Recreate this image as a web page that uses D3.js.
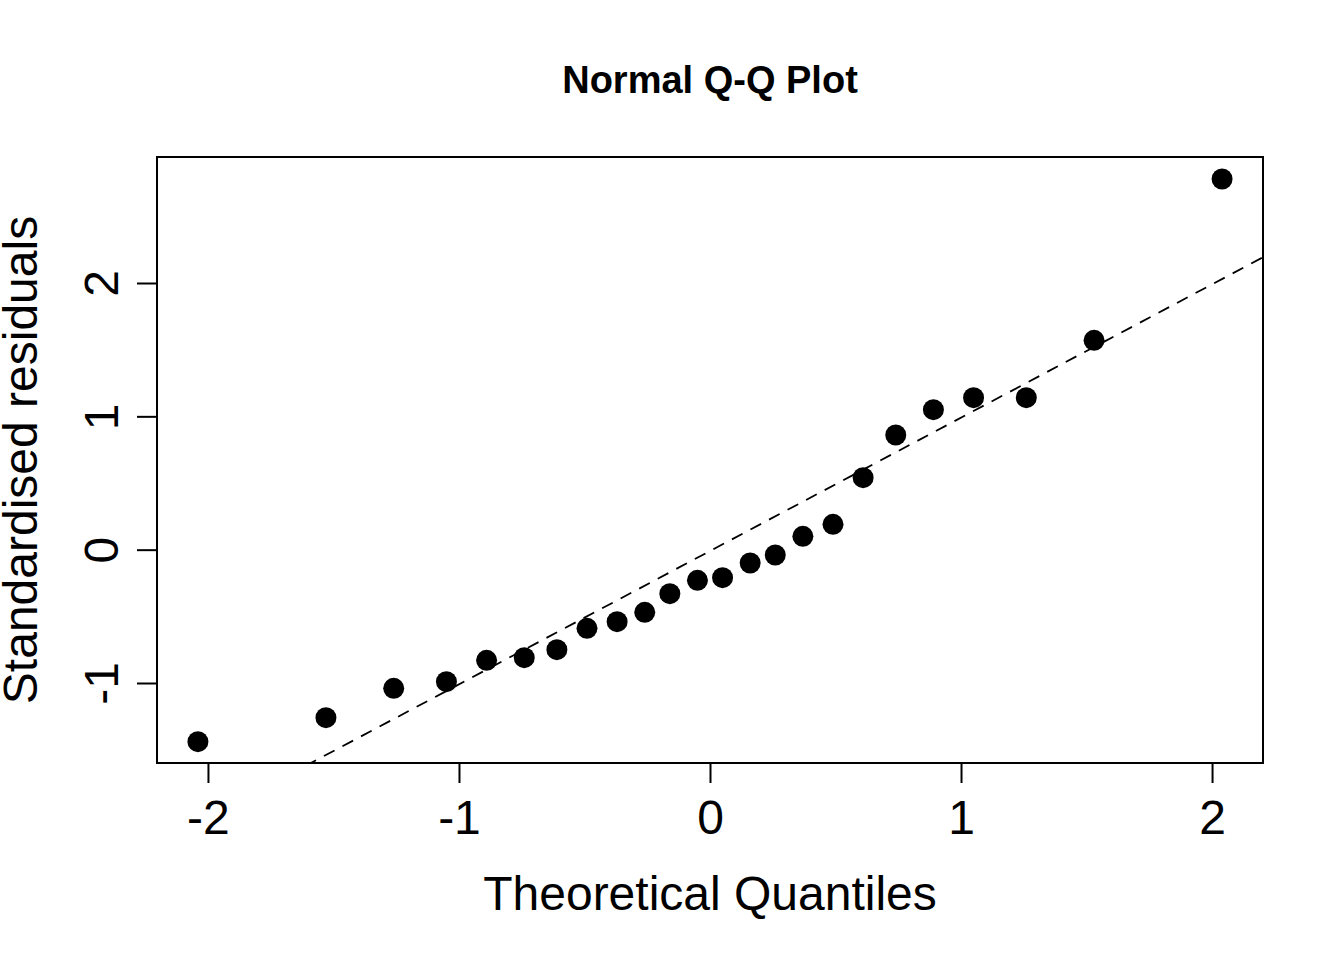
<!DOCTYPE html>
<html>
<head>
<meta charset="utf-8">
<script src="https://cdn.jsdelivr.net/npm/d3@7"></script>
<style>
  body { margin: 0; background: #fff; }
  text { font-family: "Liberation Sans", Arial, sans-serif; fill: #000; }
</style>
</head>
<body>
<div id="chart"></div>
<script>
// データ-------------------------------------------------------------------------------------
const theoretical = [-2.04, -1.53, -1.26, -1.05, -0.89, -0.74, -0.61, -0.49, -0.37, -0.26, -0.16, -0.05,
  0.05, 0.16, 0.26, 0.37, 0.49, 0.61, 0.74, 0.89, 1.05, 1.26, 1.53, 2.04];
const residuals = [-1.44, -1.26, -1.04, -0.99, -0.83, -0.81, -0.75, -0.59, -0.54, -0.47, -0.33, -0.23,
  -0.21, -0.10, -0.04, 0.10, 0.19, 0.54, 0.86, 1.05, 1.14, 1.14, 1.57, 2.78];
const xTicks = [-2, -1, 0, 1, 2];
const yTicks = [-1, 0, 1, 2];
const refLine = [-0.01, 1.0]; // intercept, slope
const title = 'Normal Q-Q Plot';
const xLabel = 'Theoretical Quantiles';
const yLabel = 'Standardised residuals';
// SVG領域-------------------------------------------------------------------------------------
const width = 1344;
const height = 960;
const margin = {top: 157, right: 81, bottom: 197, left: 157};
const svg = d3.select('#chart').append('svg')
.attr('width', width)
.attr('height', height);
// スケール-------------------------------------------------------------------------------------
const x = d3.scaleLinear()
.domain([-2.203, 2.203])
.range([margin.left, width - margin.right]);
const y = d3.scaleLinear()
.domain([-1.60, 2.945])
.range([height - margin.bottom, margin.top]);
// クリップ-------------------------------------------------------------------------------------
svg.append('clipPath')
.attr('id', 'plot-clip')
.append('rect')
.attr('x', margin.left)
.attr('y', margin.top)
.attr('width', width - margin.left - margin.right)
.attr('height', height - margin.top - margin.bottom);
// 参照線-------------------------------------------------------------------------------------
const [x0, x1] = x.domain();
svg.append('line')
.attr('clip-path', 'url(#plot-clip)')
.attr('x1', x(x0))
.attr('y1', y(refLine[0] + refLine[1] * x0))
.attr('x2', x(x1))
.attr('y2', y(refLine[0] + refLine[1] * x1))
.attr('stroke', '#000')
.attr('stroke-width', 1.8)
.attr('stroke-dasharray', '12,9');
// 点-------------------------------------------------------------------------------------
svg.append('g')
.selectAll('circle')
.data(theoretical)
.enter()
.append('circle')
.attr('cx', d => x(d))
.attr('cy', (d, i) => y(residuals[i]))
.attr('r', 10.5)
.attr('fill', '#000');
// 枠-------------------------------------------------------------------------------------
svg.append('rect')
.attr('x', margin.left)
.attr('y', margin.top)
.attr('width', width - margin.left - margin.right)
.attr('height', height - margin.top - margin.bottom)
.attr('fill', 'none')
.attr('stroke', '#000')
.attr('stroke-width', 2);
// X軸-------------------------------------------------------------------------------------
const xAxis = svg.append('g')
.attr('transform', 'translate(0,' + (height - margin.bottom) + ')')
.call(d3.axisBottom(x).tickValues(xTicks).tickSize(20).tickPadding(17).tickFormat(d3.format('d')));
xAxis.select('.domain')
.attr('d', 'M' + x(xTicks[0]) + ',0H' + x(xTicks[xTicks.length - 1]))
.attr('stroke-width', 2);
xAxis.selectAll('.tick line').attr('stroke-width', 2);
xAxis.selectAll('.tick text')
.attr('font-size', '48px')
.attr('font-family', '"Liberation Sans", Arial, sans-serif')
.text(d => d < 0 ? '-' + Math.abs(d) : d);
// Y軸-------------------------------------------------------------------------------------
const yAxis = svg.append('g')
.attr('transform', 'translate(' + margin.left + ',0)')
.call(d3.axisLeft(y).tickValues(yTicks).tickSize(20).tickFormat(d3.format('d')));
yAxis.select('.domain')
.attr('d', 'M0,' + y(yTicks[0]) + 'V' + y(yTicks[yTicks.length - 1]))
.attr('stroke-width', 2);
yAxis.selectAll('.tick line').attr('stroke-width', 2);
yAxis.selectAll('.tick text')
.attr('font-size', '48px')
.attr('font-family', '"Liberation Sans", Arial, sans-serif')
.attr('text-anchor', 'middle')
.attr('x', 0)
.attr('dy', 0)
.attr('transform', 'translate(-39,0) rotate(-90)')
.text(d => d < 0 ? '-' + Math.abs(d) : d);
// タイトル・軸ラベル-------------------------------------------------------------------------
svg.append('text')
.attr('x', (margin.left + width - margin.right) / 2)
.attr('y', 93)
.attr('text-anchor', 'middle')
.attr('font-size', '38px')
.attr('font-weight', 'bold')
.text(title);
svg.append('text')
.attr('x', (margin.left + width - margin.right) / 2)
.attr('y', 910)
.attr('text-anchor', 'middle')
.attr('font-size', '48px')
.text(xLabel);
svg.append('text')
.attr('transform', 'translate(37,' + (height - margin.bottom + margin.top) / 2 + ') rotate(-90)')
.attr('text-anchor', 'middle')
.attr('font-size', '48px')
.text(yLabel);
</script>
</body>
</html>
